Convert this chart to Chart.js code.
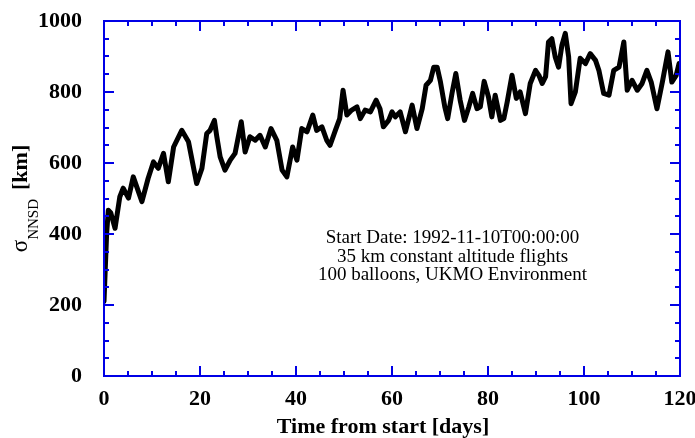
<!DOCTYPE html>
<html>
<head>
<meta charset="utf-8">
<script src="https://cdn.jsdelivr.net/npm/chart.js@4"></script>
<style>
html, body { margin: 0; padding: 0; background: #fff; }
</style>
</head>
<body>
<canvas id="grafico" width="695" height="438"></canvas>
<script>
// sigma NNSD vs tiempo, leido a ojo del grafico original

const dias = [0, 0.55, 0.9, 1.4, 2.3, 3.3, 4.0, 5.1, 6.1, 7.9, 9.2, 10.3, 11.3, 12.4, 13.4, 14.5,
	16.2, 17.6, 19.3, 20.4, 21.4, 22.1, 23.0, 23.5, 24.2, 25.2, 26.3, 27.3, 28.6, 29.4, 30.4,
	31.5, 32.5, 33.6, 34.8, 36.0, 37.1, 38.1, 39.3, 40.2, 41.2, 42.3, 43.5, 44.3, 45.4, 46.4,
	47.1, 48.2, 49.1, 49.8, 50.6, 51.6, 52.7, 53.4, 54.4, 55.5, 56.7, 57.5, 58.2, 59.3, 60.0,
	60.7, 61.7, 62.8, 64.2, 65.2, 66.3, 67.1, 68.0, 68.7, 69.4, 70.1, 71.0, 71.6, 72.5, 73.3,
	74.2, 75.1, 76.0, 76.8, 77.7, 78.4, 79.2, 80.1, 80.8, 81.5, 82.6, 83.3, 84.0, 85.0, 85.9,
	86.7, 87.8, 88.8, 89.9, 90.6, 91.3, 92.0, 92.6, 93.3, 94.0, 94.7, 95.4, 96.1, 96.8, 97.3,
	98.2, 99.2, 100.3, 101.3, 102.4, 103.1, 104.1, 105.2, 106.2, 107.3, 108.3, 109.0, 110.0,
	111.1, 112.1, 113.1, 114.0, 115.2, 116.4, 117.5, 118.3, 119.2, 119.8, 120];
const sigma = [210, 402, 467, 460, 416, 505, 529, 501, 561, 491, 557, 603, 585, 627, 547, 645,
	692, 660, 542, 585, 683, 692, 720, 674, 617, 580, 608, 627, 716, 631, 674,
	664, 678, 645, 697, 664, 580, 561, 645, 608, 697, 688, 735, 692, 702, 664,
	650, 692, 725, 805, 735, 749, 758, 725, 749, 744, 777, 753, 702, 720, 744,
	730, 744, 688, 763, 697, 753, 819, 833, 870, 870, 828, 758, 725, 796, 852,
	777, 720, 758, 796, 753, 758, 830, 786, 730, 791, 720, 725, 772, 847, 782,
	800, 739, 824, 861, 847, 824, 843, 941, 950, 899, 870, 932, 965, 899, 767,
	800, 895, 880, 908, 889, 861, 796, 791, 861, 870, 941, 805, 833,
	805, 824, 861, 828, 753, 833, 913, 828, 847, 880, 870];

const ticksX = [0, 20, 40, 60, 80, 100, 120];
const ticksY = [0, 200, 400, 600, 800, 1000];
const notas = ['Start Date: 1992-11-10T00:00:00', '35 km constant altitude flights', '100 balloons, UKMO Environment'];
const tituloX = 'Time from start [days]';

const azul = '#0000e6';
const serif = "'Liberation Serif', 'DejaVu Serif', serif";

// sin relleno extra por las etiquetas de los extremos
function sinRelleno(s) {
	s.paddingLeft = 0; s.paddingRight = 0; s.paddingTop = 0; s.paddingBottom = 0;
}

// marco azul con marcas hacia adentro en los cuatro lados
const marco = {
	id: 'marco',
	afterDatasetsDraw(chart) {
		const { ctx, chartArea: a, scales: { x, y } } = chart;
		ctx.save();
		ctx.strokeStyle = azul;
		ctx.lineWidth = 2;
		ctx.beginPath();
		for (let v = 0; v <= 120; v += 5) {
			const px = Math.round(x.getPixelForValue(v));
			const l = v % 20 === 0 ? 10 : 5;
			ctx.moveTo(px, a.bottom); ctx.lineTo(px, a.bottom - l);
			ctx.moveTo(px, a.top); ctx.lineTo(px, a.top + l);
		}
		for (let v = 0; v <= 1000; v += 50) {
			const py = Math.round(y.getPixelForValue(v));
			const l = v % 200 === 0 ? 10 : 5;
			ctx.moveTo(a.left, py); ctx.lineTo(a.left + l, py);
			ctx.moveTo(a.right, py); ctx.lineTo(a.right - l, py);
		}
		ctx.stroke();
		ctx.strokeRect(a.left, a.top, a.right - a.left, a.bottom - a.top);
		ctx.restore();
	}
};

// textos: nota, titulo x, titulo y con subindice
const textos = {
	id: 'textos',
	afterDraw(chart) {
		const { ctx, scales: { x, y } } = chart;
		ctx.save();
		ctx.fillStyle = '#000';
		ctx.textAlign = 'center';
		ctx.textBaseline = 'middle';
		ctx.font = '19px ' + serif;
		const cx = x.getPixelForValue(72.6);
		const cy = y.getPixelForValue(388);
		notas.forEach((t, i) => ctx.fillText(t, cx, cy + i * 18.5));

		ctx.font = 'bold 22px ' + serif;
		ctx.textBaseline = 'alphabetic';
		ctx.fillText(tituloX, 383, 433);

		// titulo y rotado
		ctx.translate(27, 198.5);
		ctx.rotate(-Math.PI / 2);
		ctx.textAlign = 'left';
		const fSig = '23px ' + serif, fSub = '15px ' + serif, fKm = 'bold 22px ' + serif;
		ctx.font = fSig; const w1 = ctx.measureText('σ').width;
		ctx.font = fSub; const w2 = ctx.measureText('NNSD').width;
		ctx.font = fKm; const w3 = ctx.measureText('[km]').width;
		const gap = 9;
		let u = -(w1 + w2 + gap + w3) / 2;
		ctx.font = fSig; ctx.fillText('σ', u, 0); u += w1;
		ctx.font = fSub; ctx.fillText('NNSD', u, 10.5); u += w2 + gap;
		ctx.font = fKm; ctx.fillText('[km]', u, 0);
		ctx.restore();
	}
};

new Chart(document.getElementById('grafico'), {
	type: 'line',
	data: {
		datasets: [{
			data: dias.map((d, i) => ({ x: d, y: sigma[i] })),
			borderColor: '#000',
			borderWidth: 5,
			pointRadius: 0,
			tension: 0,
			borderJoinStyle: 'round',
			borderCapStyle: 'round'
		}]
	},
	options: {
		responsive: false,
		animation: false,
		devicePixelRatio: 1,
		layout: { padding: { left: 0, top: 21, right: 15, bottom: 0 } },
		plugins: { legend: { display: false }, tooltip: { enabled: false } },
		scales: {
			x: {
				type: 'linear', min: 0, max: 120,
				afterBuildTicks: s => { s.ticks = ticksX.map(v => ({ value: v })); },
				afterFit: s => { s.height = 62; sinRelleno(s); },
				grid: { display: false, drawTicks: false },
				border: { display: false },
				ticks: { padding: 10, maxRotation: 0, color: '#000', callback: v => String(v),
					font: { family: serif, size: 22, weight: 'bold' } }
			},
			y: {
				type: 'linear', min: 0, max: 1000,
				afterBuildTicks: s => { s.ticks = ticksY.map(v => ({ value: v })); },
				afterFit: s => { s.width = 104; sinRelleno(s); },
				grid: { display: false, drawTicks: false },
				border: { display: false },
				ticks: { padding: 22, color: '#000', callback: v => String(v),
					font: { family: serif, size: 22, weight: 'bold' } }
			}
		}
	},
	plugins: [marco, textos]
});
</script>
</body>
</html>
